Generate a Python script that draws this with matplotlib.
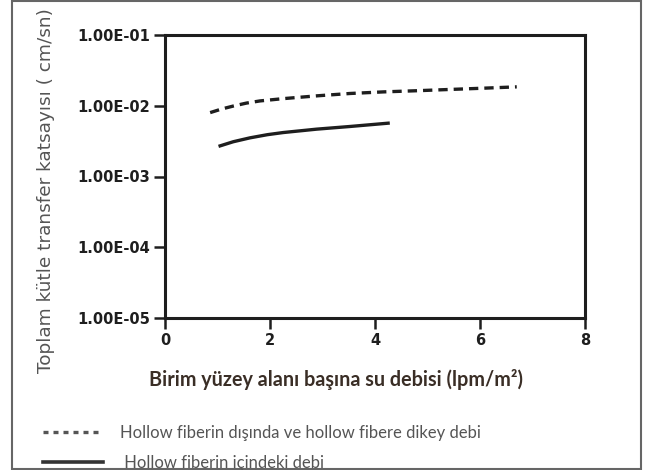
import matplotlib.pyplot as plt
import numpy as np
from matplotlib.lines import Line2D
from matplotlib.patches import Rectangle
from matplotlib.ticker import FixedLocator, FuncFormatter

# Water flow per unit surface area (lpm/m2) vs. overall mass transfer coefficient (cm/s)
x_outside = [0.86, 1.08, 1.30, 1.55, 1.81, 2.25, 2.89, 3.52, 4.16, 4.79, 5.43, 6.06, 6.70]
k_outside = [0.0080, 0.0090, 0.0099, 0.0109, 0.0117, 0.0126, 0.0138, 0.0149, 0.0157, 0.0163, 0.0170, 0.0177, 0.0185]

x_inside = [1.05, 1.30, 1.62, 1.95, 2.25, 2.89, 3.52, 4.25]
k_inside = [0.00271, 0.00310, 0.00352, 0.00390, 0.00418, 0.00467, 0.00509, 0.00567]

xticks = [0, 2, 4, 6, 8]
yticks = [1e-5, 1e-4, 1e-3, 1e-2, 1e-1]

label_outside = "Hollow fiberin dışında ve hollow fibere dikey debi"
label_inside = " Hollow fiberin içindeki debi"

ink = "#1e1e1e"
grey = "#555555"

fig = plt.figure(figsize=(6.46, 4.70), dpi=100)
ax = fig.add_axes([165 / 646, 1 - 318 / 470, 420 / 646, 283 / 470])

ax.plot(x_outside, k_outside, color=ink, lw=2.4, ls=(0, (2.8, 1.8)), dash_capstyle="butt")
ax.plot(x_inside, k_inside, color=ink, lw=2.4)

ax.set_yscale("log")
ax.set_xlim(0, 8)
ax.set_ylim(1e-5, 1e-1)
ax.yaxis.set_major_locator(FixedLocator(yticks))
ax.yaxis.set_minor_locator(FixedLocator([]))
ax.yaxis.set_major_formatter(FuncFormatter(lambda v, p: f"{v:.2E}"))
ax.set_xticks(xticks)

for s in ax.spines.values():
    s.set_linewidth(2.2)
    s.set_color(ink)
ax.tick_params(direction="out", length=8, width=1.8, color=ink, labelcolor=ink, pad=3)
for lbl in ax.get_xticklabels() + ax.get_yticklabels():
    lbl.set_fontfamily("DejaVu Sans")
    lbl.set_fontweight("bold")
    lbl.set_fontsize(10.5)

fig.text(336 / 646, 1 - 380 / 470, "Birim yüzey alanı başına su debisi (lpm/m²)",
         ha="center", va="center", fontfamily="Lato", fontweight="bold",
         fontsize=14.2, color="#3a2e26")
fig.text(46 / 646, 1 - 191 / 470, "Toplam kütle transfer katsayısı ( cm/sn)",
         rotation=90, ha="center", va="center", fontfamily="DejaVu Sans",
         fontsize=13.3, color=grey)

# legend below the plot
handles = [Line2D([], [], color=grey, lw=2.4, ls=(0, (1.5, 1.5))),
           Line2D([], [], color="#333333", lw=2.6)]
fig.legend(handles, [label_outside, label_inside], loc="upper left",
           bbox_to_anchor=(28 / 646, 1 - 410 / 470), frameon=False,
           prop={"family": "Lato", "size": 12}, labelcolor=grey,
           handlelength=3.6, handletextpad=1.0, labelspacing=0.85)

# picture frame
fig.add_artist(Rectangle((12 / 646, 1 / 470), 629 / 646, 468 / 470,
                         transform=fig.transFigure, fill=False,
                         edgecolor="#666666", lw=1.5))

fig.savefig("out.png", dpi=100)
